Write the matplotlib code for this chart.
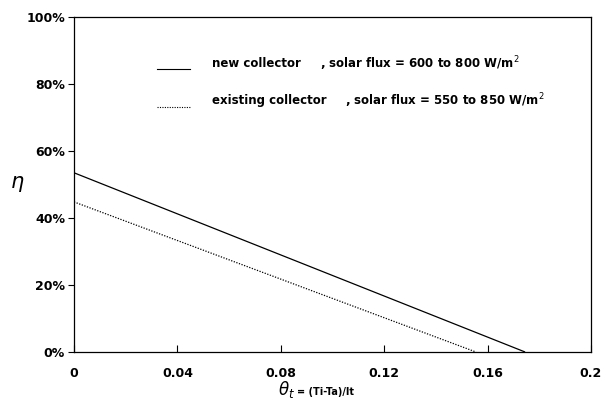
import matplotlib.pyplot as plt
from matplotlib.ticker import FuncFormatter

# efficiency lines: endpoints (theta, eta)
new_theta = [0.0, 0.1745]
new_eta = [53.5, 0.0]
old_theta = [0.0, 0.1555]
old_eta = [44.8, 0.0]

x_ticks = [0, 0.04, 0.08, 0.12, 0.16, 0.2]
x_labels = ['0', '0.04', '0.08', '0.12', '0.16', '0.2']
y_ticks = [0, 20, 40, 60, 80, 100]

names = ['new collector', 'existing collector']
flux = [', solar flux = 600 to 800 W/m$^{2}$', ', solar flux = 550 to 850 W/m$^{2}$']

plt.rcParams['font.family'] = ['DejaVu Sans']

fig = plt.figure(figsize=(6.01, 4.03), dpi=100)
ax = fig.add_axes([74 / 601, 1 - 352 / 403, (591 - 74) / 601, (352 - 17) / 403])

ax.plot(new_theta, new_eta, color='black', lw=0.9, solid_capstyle='butt')
ax.plot(old_theta, old_eta, color='black', lw=0.9, ls=(0, (1, 1.2)))

ax.set_xlim(0, 0.2)
ax.set_ylim(0, 100)
ax.set_xticks(x_ticks)
ax.set_xticklabels(x_labels)
ax.set_yticks(y_ticks)
ax.yaxis.set_major_formatter(FuncFormatter(lambda v, p: '%d%%' % v))
ax.tick_params(axis='x', direction='in', length=5, width=0.8, pad=11, labelsize=9)
ax.tick_params(axis='y', direction='out', length=4.5, width=0.8, pad=2, labelsize=9)
for lbl in ax.get_xticklabels() + ax.get_yticklabels():
    lbl.set_fontweight('bold')
for s in ax.spines.values():
    s.set_linewidth(0.9)

# legend drawn by hand
ax.plot([0.0321, 0.0449], [84.5, 84.5], color='black', lw=0.8)
ax.plot([0.0321, 0.0449], [73.2, 73.2], color='black', lw=0.8, ls=(0, (1, 1.2)))
ax.text(0.0534, 86.0, names[0], fontsize=8.5, fontweight='bold', va='center')
ax.text(0.0952, 86.0, flux[0], fontsize=8.5, fontweight='bold', va='center')
ax.text(0.0534, 75.0, names[1], fontsize=8.5, fontweight='bold', va='center')
ax.text(0.1048, 75.0, flux[1], fontsize=8.5, fontweight='bold', va='center')

fig.text(10 / 601, 1 - 184 / 403, r'$\eta$', fontsize=15, ha='left', va='center')
fig.text(278 / 601, 1 - 390 / 403, r'$\theta_{t}$', fontsize=12, ha='left', va='center')
fig.text(297 / 601, 1 - 392 / 403, '= (Ti-Ta)/It', fontsize=7, fontweight='bold',
         ha='left', va='center')

fig.savefig('out.png', dpi=100)
